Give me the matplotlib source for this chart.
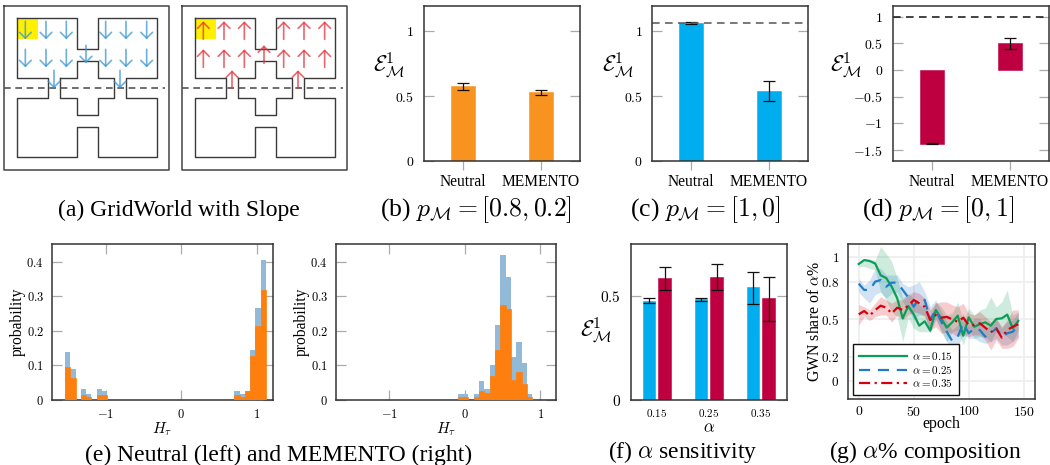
import matplotlib
matplotlib.use('Agg')
import matplotlib.pyplot as plt
import numpy as np

plt.rcParams['font.family'] = ['Liberation Serif', 'DejaVu Serif']
plt.rcParams['mathtext.fontset'] = 'cm'

W, H = 1050, 465

# GridWorld outlines and arrows, units are cells of the picture
room_outer = [(52, 54), (231, 54), (231, 146), (293, 146), (293, 54), (472, 54), (472, 233), (379, 233),
              (379, 295), (472, 295), (472, 472), (293, 472), (293, 381), (231, 381), (231, 472), (52, 472),
              (52, 295), (145, 295), (145, 233), (52, 233), (52, 54)]
room_inner = [(181, 233), (231, 233), (231, 183), (293, 183), (293, 233), (341, 233), (341, 295), (293, 295),
              (293, 344), (231, 344), (231, 295), (181, 295), (181, 233)]
arrow_x = [76, 138, 199, 317, 378, 440, 76, 138, 199, 317, 378, 440, 258, 162, 360]
arrow_top = [64, 64, 64, 64, 64, 64, 148, 148, 148, 148, 148, 148, 136, 211, 211]

categories = ['Neutral', 'MEMENTO']
b_vals, b_lo, b_hi = [0.577, 0.533], [0.546, 0.513], [0.605, 0.546]
c_vals, c_lo, c_hi = [1.066, 0.543], [1.056, 0.464], [1.064, 0.618]
d_vals, d_lo, d_hi = [-1.386, 0.5], [-1.395, 0.39], [-1.375, 0.6]

hist_left_blue = [.14, .09, 0, .033, .016, 0, .033, .025, 0, 0, 0, 0, 0, 0, 0, 0, 0, 0, 0, 0, 0, 0, 0, 0,
                  0, 0, 0, 0, 0, 0, 0, 0, .025, .016, .025, .145, .266, .405]
hist_left_orange = [.095, .063, 0, .014, .008, 0, .014, .014, 0, 0, 0, 0, 0, 0, 0, 0, 0, 0, 0, 0, 0, 0, 0, 0,
                    0, 0, 0, 0, 0, 0, 0, 0, .014, .008, .025, .127, .214, .318]
hist_right_blue = [0, 0, 0, 0, 0, 0, 0, 0, 0, 0, 0, 0, 0, 0, 0, 0, 0, 0, 0, 0, .017, .017, 0, .017,
                   .055, .032, .10, .217, .42, .355, .124, .167, .107, .017, 0, 0, 0, 0]
hist_right_orange = [0, 0, 0, 0, 0, 0, 0, 0, 0, 0, 0, 0, 0, 0, 0, 0, 0, 0, 0, 0, .008, .008, 0, .01,
                     .026, .02, .07, .145, .275, .263, .058, .081, .046, .008, 0, 0, 0, 0]

alpha_labels = ['0.15', '0.25', '0.35']
f_blue, f_blue_lo, f_blue_hi = [.479, .487, .543], [.466, .476, .463], [.49, .49, .619]
f_red, f_red_lo, f_red_hi = [.589, .593, .49], [.529, .529, .381], [.642, .654, .593]

epochs = list(range(0, 150, 5))
g15 = [.946, .978, .97, .95, .855, .833, .763, .67, .508, .607, .54, .449, .484, .409, .575,
       .508, .433, .476, .53, .368, .516, .44, .46, .476, .449, .503, .508, .538, .427, .487]
g15_up = [.95, .99, .985, .977, 1.086, 1.03, .965, .83, .67, .71, .67, .615, .6, .535, .64,
          .60, .535, .55, .64, .48, .59, .535, .575, .59, .68, .60, .64, .737, .535, .56]
g15_lo = [.925, .925, .91, .90, .72, .656, .56, .52, .32, .51, .427, .40, .40, .40, .51,
          .40, .32, .40, .414, .293, .427, .347, .36, .36, .32, .40, .387, .36, .32, .414]
g25 = [.788, .737, .737, .804, .817, .763, .796, .796, .737, .677, .602, .67, .656, .495, .575,
       .48, .40, .325, .36, .468, .387, .427, .414, .36, .387, .427, .36, .387, .40, .449]
g25_up = [.83, .777, .817, .911, .911, .858, .858, .858, .79, .763, .777, .804, .723, .602, .656,
          .562, .481, .414, .454, .548, .441, .508, .508, .427, .454, .508, .427, .481, .495, .548]
g25_lo = [.72, .67, .63, .70, .72, .67, .71, .72, .64, .575, .495, .535, .535, .387, .495,
          .414, .32, .25, .28, .376, .347, .347, .32, .306, .32, .347, .293, .293, .32, .36]
g35 = [.54, .567, .53, .575, .61, .594, .548, .594, .575, .61, .656, .629, .602, .495, .535,
       .513, .52, .50, .48, .513, .454, .454, .468, .433, .395, .427, .352, .414, .44, .46]
g35_up = [.62, .60, .575, .63, .683, .656, .63, .656, .656, .696, .723, .71, .67, .575, .63,
          .64, .64, .616, .602, .629, .548, .535, .562, .521, .48, .508, .44, .495, .575, .575]
g35_lo = [.454, .522, .49, .522, .535, .535, .476, .535, .495, .535, .562, .548, .522, .414, .44,
          .387, .40, .387, .36, .387, .36, .374, .374, .333, .253, .333, .266, .266, .28, .347]

ORANGE = '#F7931E'
BLUE = '#00AEEF'
CRIMSON = '#BE0040'
FRAME = '#333333'
TICK = '#aaaaaa'
EPS = r'$\mathcal{E}^1_{\mathcal{M}}$'

fig = plt.figure(figsize=(W / 100, H / 100), dpi=100)


def axes_px(x0, y0, x1, y1):
    ax = fig.add_axes([x0 / W, 1 - y1 / H, (x1 - x0) / W, (y1 - y0) / H])
    for s in ax.spines.values():
        s.set_color(FRAME)
        s.set_linewidth(1.1)
        s.set_zorder(5)
    return ax


def px_text(x, y, s, size, **kw):
    fig.text(x / W, 1 - y / H, s, fontsize=size, ha='center', va='center', **kw)


def grid_panel(x0, up, color):
    ax = axes_px(x0, 0, x0 + 175, 175)
    ax.set_xlim(0, 525)
    ax.set_ylim(525, 0)
    ax.axis('off')
    ax.plot([13, 508, 508, 13, 13], [17, 17, 510, 510, 17], color='#444444', lw=1.1)
    for wall in (room_outer, room_inner):
        ax.plot([p[0] for p in wall], [p[1] for p in wall], color='#3a3a3a', lw=1.0)
    ax.fill_between([52, 114], 54, 116, color='#FFF000', lw=0, zorder=0)
    ax.plot([13, 495], [264, 264], color='#555555', lw=1.2, ls=(0, (4, 2.8)))
    for x, t in zip(arrow_x, arrow_top):
        start, end = (t + 54, t) if up else (t, t + 54)
        ax.annotate('', xy=(x, end), xytext=(x, start),
                    arrowprops=dict(arrowstyle='->,head_length=0.3,head_width=0.3', color=color, lw=1.2,
                                    alpha=0.75, mutation_scale=14, shrinkA=0, shrinkB=0))


grid_panel(0, False, '#3b97d3')
grid_panel(178, True, '#e2343e')


def bar_panel(x0, x1, vals, lo, hi, color, yticks, ylim, dashed=None, dash_color='#555555'):
    ax = axes_px(x0, 5.7, x1, 161.3)
    x = np.arange(1, 3)
    err = [np.array(vals) - np.array(lo), np.array(hi) - np.array(vals)]
    ax.bar(x, vals, width=0.305, color=color, edgecolor=color, lw=0.4, zorder=2)
    ax.errorbar(x, vals, yerr=np.abs(err), fmt='none', ecolor='#111111', elinewidth=0.9,
                capsize=4.5, capthick=0.9, zorder=3)
    if dashed is not None:
        ax.axhline(dashed, color=dash_color, lw=1.1, ls=(0, (5, 3.5)), zorder=4)
    ax.set_xlim(0.5, 2.5)
    ax.set_ylim(*ylim)
    ax.set_xticks(x, categories, fontsize=11.2)
    ax.set_yticks(yticks, ['$%s$' % str(t).replace('.0', '') if t else '$0$' for t in yticks], fontsize=10)
    ax.tick_params(axis='y', direction='in', left=True, right=True, length=7, width=0.9, color=TICK, pad=7)
    ax.tick_params(axis='x', direction='out', length=6.5, width=0.9, color=TICK, pad=3)
    ax.set_ylabel(EPS, rotation=0, fontsize=16, va='center', ha='center')
    return ax


ax = bar_panel(424, 579.7, b_vals, b_lo, b_hi, ORANGE, [0, 0.5, 1], (0, 1.197))
ax.yaxis.set_label_coords((389 - 424) / 155.7, (161.3 - 65) / 155.6)
ax = bar_panel(652.3, 808, c_vals, c_lo, c_hi, BLUE, [0, 0.5, 1], (0, 1.197), dashed=1.066)
ax.yaxis.set_label_coords((617.7 - 652.3) / 155.7, (161.3 - 65) / 155.6)
ax = bar_panel(892.7, 1049, d_vals, d_lo, d_hi, CRIMSON, [-1.5, -1, -0.5, 0, 0.5, 1], (-1.71, 1.204),
               dashed=1, dash_color='#111111')
ax.yaxis.set_label_coords((845.7 - 892.7) / 156.3, (161.3 - 65) / 155.6)


def hist_panel(x0, x1, blue, orange, bin_start, bin_width):
    ax = axes_px(x0, 244.3, x1, 400)
    x = bin_start + bin_width * (np.arange(len(blue)) + 0.5)
    ax.bar(x, blue, width=bin_width, color='#92BAD8', lw=0, zorder=2)
    ax.bar(x, orange, width=bin_width, color='#FF7F0E', edgecolor='#FF7F0E', lw=0.5, zorder=6)
    ax.set_xlim(-1.705, 1.207)
    ax.set_ylim(0, 0.45)
    ax.set_xticks([-1, 0, 1], ['$-1$', '$0$', '$1$'], fontsize=9)
    ax.set_yticks([0, .1, .2, .3, .4], ['$0$', '$0.1$', '$0.2$', '$0.3$', '$0.4$'], fontsize=9)
    ax.tick_params(axis='both', direction='in', left=True, right=True, top=True, bottom=True,
                   length=7, width=0.9, color=TICK, pad=6)
    ax.set_xlabel(r'$H_\tau$', fontsize=11, labelpad=-1)
    ax.set_ylabel('probability', fontsize=11.2, labelpad=0.5)
    return ax


hist_panel(52.3, 272.7, hist_left_blue, hist_left_orange, -1.537, 0.0699)
hist_panel(336.3, 556, hist_right_blue, hist_right_orange, -1.506, 0.0705)

# (f)
ax = axes_px(630.7, 244.3, 786.7, 400)
pos = np.arange(3)
for off, v, lo, hi, col in ((-0.153, f_blue, f_blue_lo, f_blue_hi, BLUE),
                            (0.153, f_red, f_red_lo, f_red_hi, CRIMSON)):
    ax.bar(pos + off, v, width=0.237, color=col, edgecolor=col, lw=0.4, zorder=2)
    ax.errorbar(pos + off, v, yerr=[np.array(v) - np.array(lo), np.array(hi) - np.array(v)], fmt='none',
                ecolor='#111111', elinewidth=0.9, capsize=4.5, capthick=0.9, zorder=3)
ax.set_xlim(-0.5, 2.5)
ax.set_ylim(0, 0.751)
ax.set_xticks(pos, ['$%s$' % a for a in alpha_labels], fontsize=8)
ax.set_yticks([0, 0.5], ['$0$', '$0.5$'], fontsize=11)
ax.tick_params(axis='y', direction='in', left=True, right=True, length=7, width=0.9, color=TICK, pad=7)
ax.tick_params(axis='x', length=0, pad=5)
ax.set_xlabel(r'$\alpha$', fontsize=12, labelpad=1)
ax.set_ylabel(EPS, rotation=0, fontsize=16, va='center', ha='center')
ax.yaxis.set_label_coords((596 - 630.7) / 156, (400 - 330) / 155.7)

# (g)
ax = axes_px(847.7, 244.3, 1035.3, 399.3)
series = ((g15, g15_lo, g15_up, '#0B9E58', '-', r'$\alpha=0.15$'),
          (g25, g25_lo, g25_up, '#1F7CC8', (0, (5, 3.5)), r'$\alpha=0.25$'),
          (g35, g35_lo, g35_up, '#D9000D', (0, (5, 2, 1, 2)), r'$\alpha=0.35$'))
for v, lo, up, col, ls, lab in series:
    ax.fill_between(epochs, lo, up, color=col, alpha=0.2, lw=0, zorder=2)
for v, lo, up, col, ls, lab in series:
    ax.plot(epochs, v, color=col, ls=ls, lw=1.6, label=lab, zorder=3)
ax.set_xlim(-10, 160.5)
ax.set_ylim(-0.145, 1.105)
ax.set_xticks([0, 50, 100, 150], ['$0$', '$50$', '$100$', '$150$'], fontsize=10)
ax.set_yticks([0, .2, .5, .8, 1], ['$0$', '$0.2$', '$0.5$', '$0.8$', '$1$'], fontsize=9.5)
ax.grid(color='#eeeeee', lw=1.2, zorder=0)
ax.set_axisbelow(True)
ax.tick_params(axis='both', length=0, pad=6)
ax.tick_params(axis='x', pad=4)
ax.set_xlabel('epoch', fontsize=11.5, labelpad=-2)
ax.set_ylabel(r'GWN share of $\alpha$%', fontsize=11.4, labelpad=-1)
leg = ax.legend(loc='lower left', bbox_to_anchor=(5.6 / 187.6, 4.6 / 155), fontsize=8, frameon=True,
                fancybox=False, framealpha=1, edgecolor='#111111', borderaxespad=0, borderpad=0.5,
                labelspacing=0.14, handlelength=4.3, handletextpad=0.5)
leg.get_frame().set_linewidth(1.0)
leg.set_zorder(7)

# Подписи
px_text(179, 210, '(a) GridWorld with Slope', 17)
px_text(476, 210, r'(b) $p_{\mathcal{M}}=[0.8,0.2]$', 18.5)
px_text(705, 210, r'(c) $p_{\mathcal{M}}=[1,0]$', 18.5)
px_text(938, 210, r'(d) $p_{\mathcal{M}}=[0,1]$', 18.5)
px_text(279, 455, '(e) Neutral (left) and MEMENTO (right)', 17)
px_text(683, 452, r'(f) $\alpha$ sensitivity', 17)
px_text(925, 452, r'(g) $\alpha$% composition', 17)

fig.savefig('out.png', dpi=100)
